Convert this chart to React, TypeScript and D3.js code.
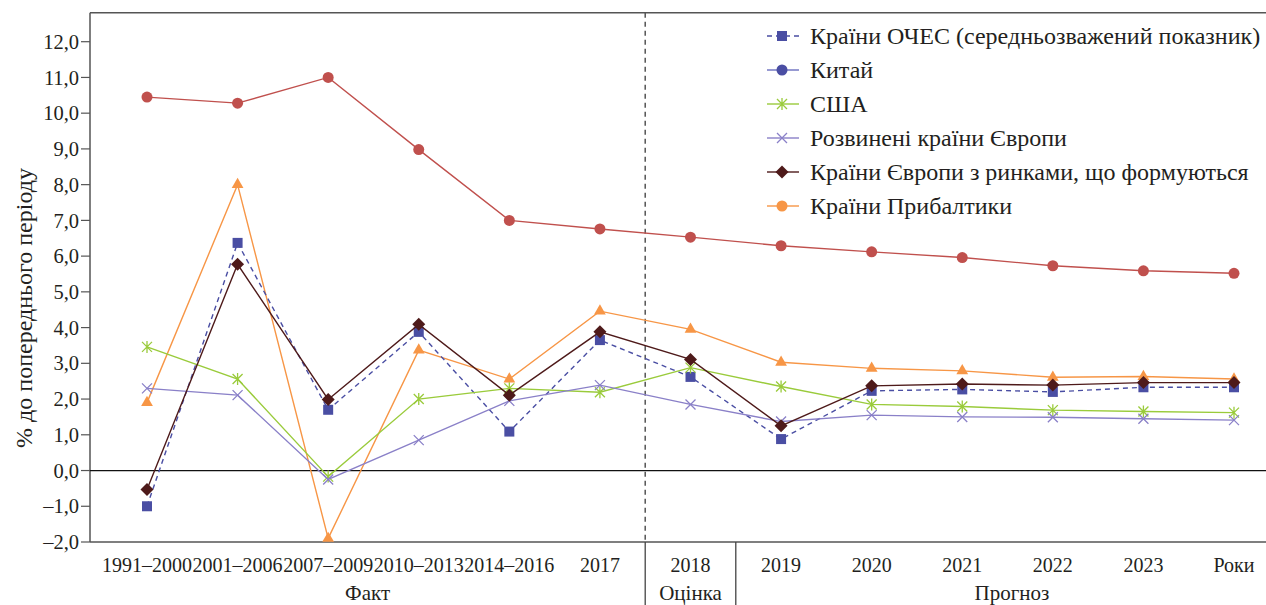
import * as d3 from "d3";

const categories = [
  "1991–2000",
  "2001–2006",
  "2007–2009",
  "2010–2013",
  "2014–2016",
  "2017",
  "2018",
  "2019",
  "2020",
  "2021",
  "2022",
  "2023",
  "Роки",
];

const oecd = [-1.0, 6.37, 1.7, 3.88, 1.09, 3.65, 2.62, 0.88, 2.23, 2.27, 2.2, 2.33, 2.33];
const china = [10.45, 10.28, 11.0, 8.98, 7.0, 6.76, 6.53, 6.29, 6.12, 5.96, 5.73, 5.59, 5.52];
const usa = [3.46, 2.56, -0.17, 2.0, 2.3, 2.19, 2.88, 2.35, 1.85, 1.79, 1.69, 1.65, 1.62];
const devEurope = [2.3, 2.11, -0.25, 0.85, 1.95, 2.39, 1.85, 1.37, 1.55, 1.5, 1.49, 1.45, 1.41];
const emEurope = [-0.53, 5.77, 1.99, 4.09, 2.11, 3.88, 3.11, 1.25, 2.37, 2.42, 2.39, 2.46, 2.46];
const baltic = [1.9, 8.0, -1.9, 3.37, 2.56, 4.46, 3.95, 3.03, 2.86, 2.79, 2.61, 2.63, 2.56];

const yTicks = [-2, -1, 0, 1, 2, 3, 4, 5, 6, 7, 8, 9, 10, 11, 12];

const seriesNames = [
  "Країни ОЧЕС (середньозважений показник)",
  "Китай",
  "США",
  "Розвинені країни Європи",
  "Країни Європи з ринками, що формуються",
  "Країни Прибалтики",
];

type Shape = "square" | "circle" | "star" | "x" | "diamond" | "triangle";

interface Series {
  name: string;
  values: number[];
  color: string;
  shape: Shape;
  dashed?: boolean;
  legendShape: Shape;
  legendColor: string;
  legendLine: string;
}

const series: Series[] = [
  { name: seriesNames[0], values: oecd, color: "#4a4ea3", shape: "square", dashed: true, legendShape: "square", legendColor: "#4a4ea3", legendLine: "#4a4ea3" },
  { name: seriesNames[1], values: china, color: "#c0504d", shape: "circle", legendShape: "circle", legendColor: "#4a4ea3", legendLine: "#6b6fbf" },
  { name: seriesNames[2], values: usa, color: "#9acb3b", shape: "star", legendShape: "star", legendColor: "#9acb3b", legendLine: "#9acb3b" },
  { name: seriesNames[3], values: devEurope, color: "#8a80c8", shape: "x", legendShape: "x", legendColor: "#8a80c8", legendLine: "#8a80c8" },
  { name: seriesNames[4], values: emEurope, color: "#4e1a1a", shape: "diamond", legendShape: "diamond", legendColor: "#4e1a1a", legendLine: "#4e1a1a" },
  { name: seriesNames[5], values: baltic, color: "#f79646", shape: "triangle", legendShape: "circle", legendColor: "#f79646", legendLine: "#f79646" },
];

const W = 1266;
const H = 605;
const left = 90;
const top = 12.7;
const bottom = 542;
const font = '"Liberation Serif", "Times New Roman", serif';
const textColor = "#231f20";
const ts = { fontFamily: font };

const x = d3.scalePoint<string>().domain(categories).range([147, 1234]);
const y = d3.scaleLinear().domain([-2, 12]).range([bottom, 41.7]);

const fmt = (v: number) => d3.format(".1f")(v).replace(".", ",").replace("-", "–").replace("−", "–");

function Marker({ shape, cx, cy, color }: { shape: Shape; cx: number; cy: number; color: string }) {
  const s = 5;
  switch (shape) {
    case "square":
      return <rect x={cx - 5} y={cy - 5} width={10} height={10} fill={color} />;
    case "circle":
      return <circle cx={cx} cy={cy} r={5.5} fill={color} />;
    case "triangle":
      return (
        <path
          d={d3.symbol().type(d3.symbolTriangle).size(60)() as string}
          transform={`translate(${cx},${cy})`}
          fill={color}
        />
      );
    case "diamond":
      return (
        <path
          d={`M${cx},${cy - 6.5}L${cx + 6.5},${cy}L${cx},${cy + 6.5}L${cx - 6.5},${cy}Z`}
          fill={color}
        />
      );
    case "x":
      return (
        <path
          d={`M${cx - s},${cy - s}L${cx + s},${cy + s}M${cx - s},${cy + s}L${cx + s},${cy - s}`}
          stroke={color}
          strokeWidth={1.3}
          fill="none"
        />
      );
    case "star":
      return (
        <path
          d={`M${cx - s},${cy - s}L${cx + s},${cy + s}M${cx - s},${cy + s}L${cx + s},${cy - s}M${cx},${cy - 6}L${cx},${cy + 6}`}
          stroke={color}
          strokeWidth={1.3}
          fill="none"
        />
      );
  }
  return null;
}

export default function App() {
  const line = d3
    .line<number>()
    .x((_, i) => x(categories[i]) as number)
    .y((d) => y(d));

  const sep1 = ((x(categories[5]) as number) + (x(categories[6]) as number)) / 2;
  const sep2 = ((x(categories[6]) as number) + (x(categories[7]) as number)) / 2;
  const drawOrder = [5, 0, 1, 2, 3, 4];

  return (
    <svg
      width={W}
      height={H}
      style={{ position: "absolute", left: 0, top: 0, background: "#fff", fontFamily: font }}
    >
      {/* frame */}
      <line x1={left} x2={W} y1={top} y2={top} stroke="#555" strokeWidth={1.5} />
      <line x1={left} x2={left} y1={top} y2={bottom} stroke="#555" strokeWidth={1.5} />
      <line x1={left} x2={W} y1={bottom} y2={bottom} stroke="#555" strokeWidth={1.5} />

      {/* y ticks */}
      {yTicks.map((t) => (
        <g key={t}>
          <line x1={left - 9} x2={left} y1={y(t)} y2={y(t)} stroke="#555" strokeWidth={1.2} />
          <text x={left - 11} y={y(t)} dy="0.35em" textAnchor="end" fontSize={20.5} fill={textColor} style={ts}>
            {fmt(t)}
          </text>
        </g>
      ))}

      <text
        transform={`translate(24,${308}) rotate(-90)`}
        textAnchor="middle"
        dy="0.35em"
        fontSize={24}
        fill={textColor}
        style={ts}
      >
        % до попереднього періоду
      </text>

      {/* zero line */}
      <line x1={left} x2={W} y1={y(0)} y2={y(0)} stroke="#111" strokeWidth={1.2} />

      {/* fact / forecast separators */}
      <line x1={sep1} x2={sep1} y1={top} y2={bottom} stroke="#555" strokeWidth={1.5} strokeDasharray="5,4" />
      <line x1={sep1} x2={sep1} y1={bottom} y2={H} stroke="#444" strokeWidth={1.3} />
      <line x1={sep2} x2={sep2} y1={bottom} y2={H} stroke="#444" strokeWidth={1.3} />

      {/* x labels */}
      {categories.map((c) => (
        <text key={c} x={x(c)} y={572} textAnchor="middle" fontSize={20} fill={textColor} style={ts}>
          {c}
        </text>
      ))}
      <text x={(left + sep1) / 2} y={600} textAnchor="middle" fontSize={21} fill={textColor} style={ts}>
        Факт
      </text>
      <text x={x(categories[6])} y={600} textAnchor="middle" fontSize={21} fill={textColor} style={ts}>
        Оцінка
      </text>
      <text x={1012} y={600} textAnchor="middle" fontSize={21} fill={textColor} style={ts}>
        Прогноз
      </text>

      {/* series */}
      {drawOrder.map((si) => {
        const s = series[si];
        return (
          <g key={s.name}>
            <path
              d={line(s.values) as string}
              fill="none"
              stroke={s.color}
              strokeWidth={1.4}
              strokeDasharray={s.dashed ? "5,4" : undefined}
            />
            {s.values.map((v, i) => (
              <Marker key={i} shape={s.shape} cx={x(categories[i]) as number} cy={y(v)} color={s.color} />
            ))}
          </g>
        );
      })}

      {/* legend */}
      {series.map((s, i) => {
        const ly = 36 + i * 34;
        return (
          <g key={s.name}>
            <line
              x1={767}
              x2={799}
              y1={ly}
              y2={ly}
              stroke={s.legendLine}
              strokeWidth={1.4}
              strokeDasharray={s.dashed ? "5,4" : undefined}
            />
            <Marker shape={s.legendShape} cx={782} cy={ly} color={s.legendColor} />
            <text x={810} y={ly} dy="0.35em" fontSize={24} fill={textColor} style={ts}>
              {s.name}
            </text>
          </g>
        );
      })}
    </svg>
  );
}
